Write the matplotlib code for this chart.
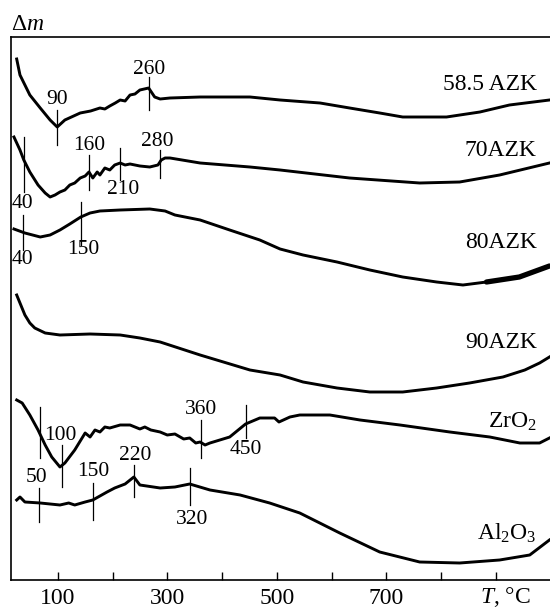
import matplotlib.pyplot as plt

plt.rcParams['font.family'] = ['Liberation Serif', 'DejaVu Serif']
plt.rcParams['mathtext.fontset'] = 'custom'
plt.rcParams['mathtext.rm'] = 'Liberation Serif'
plt.rcParams['mathtext.it'] = 'Liberation Serif:italic'

# temperature (deg C) and mass change (arb. units, curves stacked)
t_585 = [25, 31, 40, 49, 68, 86, 99, 113, 141, 160, 177, 186, 195, 205, 214, 223, 232,
         241, 250, 266, 277, 287, 305, 360, 451, 506, 579, 633, 688, 730, 810, 871, 925, 998]
m_585 = [521, 505, 495, 485, 472, 460, 453, 460, 467, 469, 472, 471, 474, 477, 480, 479, 485,
         486, 490, 492, 483, 481, 482, 483, 483, 480, 477, 472, 467, 463, 463, 468, 475, 480]

t_70 = [20, 31, 38, 49, 64, 77, 86, 95, 104, 113, 122, 131, 141, 150, 157, 164, 172, 177,
        186, 195, 204, 214, 223, 232, 250, 268, 283, 289, 296, 305, 360, 451, 506, 633,
        761, 834, 907, 998]
m_70 = [443, 430, 420, 408, 395, 387, 383, 385, 388, 390, 395, 397, 402, 404, 408, 402, 408, 405,
        412, 410, 415, 417, 415, 416, 414, 413, 415, 420, 422, 422, 417, 413, 410, 402,
        397, 398, 405, 417]

t_80 = [20, 40, 68, 86, 104, 122, 142, 159, 177, 214, 268, 296, 314, 360, 414, 469, 506,
        548, 610, 670, 730, 792, 840, 883, 943, 998]
m_80 = [351, 347, 343, 345, 350, 356, 363, 367, 369, 370, 371, 369, 365, 360, 350, 340, 331,
        325, 318, 310, 303, 298, 295, 298, 303, 314]

t_90 = [25, 31, 40, 49, 58, 77, 104, 159, 214, 250, 287, 360, 451, 506, 548, 610, 670,
        730, 792, 852, 913, 953, 980, 998]
m_90 = [285, 277, 265, 257, 252, 247, 245, 246, 245, 242, 238, 225, 210, 205, 198, 192, 188,
        188, 192, 197, 203, 210, 217, 223]

t_zr = [25, 35, 49, 64, 77, 89, 104, 113, 131, 150, 159, 168, 177, 186, 195, 214, 232,
        250, 259, 270, 287, 300, 314, 330, 341, 352, 360, 369, 378, 414, 443, 469, 496,
        504, 524, 542, 597, 652, 725, 816, 889, 944, 980, 998]
m_zr = [180, 177, 165, 150, 135, 123, 113, 117, 130, 147, 143, 150, 148, 153, 152, 155, 155,
        151, 153, 150, 148, 145, 146, 141, 142, 137, 138, 135, 137, 143, 156, 162, 162,
        158, 163, 165, 165, 160, 155, 148, 143, 137, 137, 142]

t_al = [25, 31, 40, 68, 86, 104, 120, 131, 150, 164, 177, 190, 204, 223, 239, 250, 287,
        314, 341, 378, 433, 487, 542, 615, 688, 761, 834, 907, 962, 998]
m_al = [80, 83, 78, 77, 76, 75, 77, 75, 78, 80, 84, 88, 92, 96, 103, 95, 92,
        93, 96, 90, 85, 77, 67, 47, 28, 18, 17, 20, 25, 40]

curves = [(t_585, m_585), (t_70, m_70), (t_80, m_80), (t_90, m_90), (t_zr, m_zr), (t_al, m_al)]
names = ['58.5 AZK', '70AZK', '80AZK', '90AZK', 'ZrO$_2$', 'Al$_2$O$_3$']
name_y = [495, 430, 338, 237, 158, 47]

# marked temperatures: (T on axis, line bottom, line top, label, label x, label y)
marks = [
    (99, 435, 470, '90', 99, 480),
    (266, 470, 503, '260', 266, 510),
    (38, 388, 443, '40', 36, 377),
    (157, 390, 425, '160', 157, 434),
    (214, 400, 432, '210', 220, 390),
    (287, 402, 430, '280', 281, 439),
    (36, 330, 365, '40', 36, 320),
    (142, 335, 378, '150', 146, 330),
    (68, 122, 173, '', 68, 0),
    (108, 93, 135, '100', 104, 145),
    (361, 122, 160, '360', 361, 171),
    (443, 142, 175, '450', 443, 130),
    (66, 58, 92, '50', 62, 103),
    (164, 60, 97, '150', 164, 108),
    (239, 83, 115, '220', 241, 125),
    (341, 75, 112, '320', 345, 60),
]

fig = plt.figure(figsize=(5.5, 6.09), dpi=100)
ax = fig.add_axes([11 / 550, 29 / 609, 1 - 11 / 550, 543 / 609])

for t, m in curves:
    ax.plot(t, m, color='black', lw=2.1, solid_joinstyle='round')
# noisy thick tail of the 80AZK trace
ax.plot(t_80[-3:], m_80[-3:], color='black', lw=3.8, solid_capstyle='round')

for tm, lo, hi, lab, lx, ly in marks:
    ax.plot([tm, tm], [lo, hi], color='black', lw=0.9)
    if lab:
        ax.text(lx, ly, lab, fontsize=15.5, ha='center', va='center')

for nm, ny in zip(names, name_y):
    ax.text(975, ny, nm, fontsize=17, ha='right', va='center')

ax.set_xlim(14.6, 999)
ax.set_ylim(0, 543)
ax.set_xticks(range(100, 1000, 100))
ax.set_xticklabels(['100', '', '300', '', '500', '', '700', '', ''])
ax.set_yticks([])
ax.tick_params(axis='x', direction='in', length=6, width=1, labelsize=17, pad=6)
for s in ['left', 'top', 'bottom']:
    ax.spines[s].set_linewidth(1.2)
ax.spines['right'].set_visible(False)

ax.text(918, -17, '$T$, °C', fontsize=17, ha='center', va='center')
fig.text(11 / 550, 1 - 25 / 609, 'Δ$m$', fontsize=17, ha='left', va='center')

fig.savefig('out.png', dpi=100)
